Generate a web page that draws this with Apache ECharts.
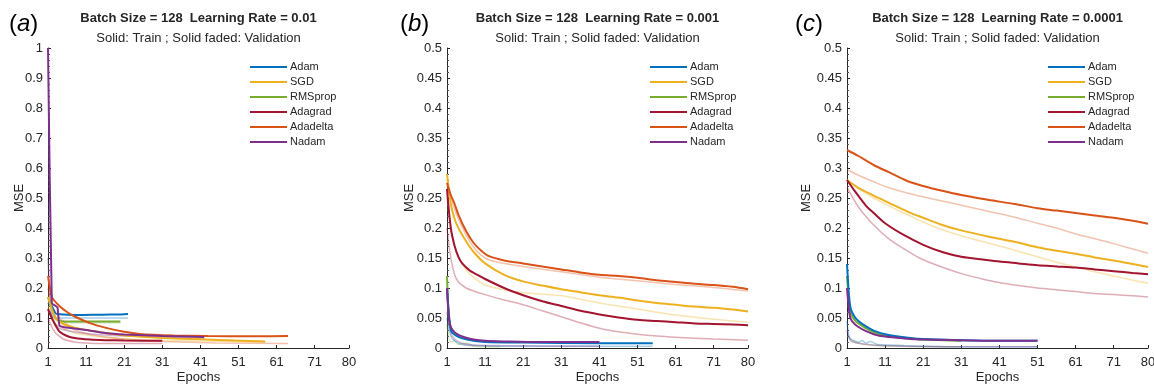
<!DOCTYPE html>
<html>
<head>
<meta charset="utf-8">
<script src="https://cdn.jsdelivr.net/npm/echarts@6/dist/echarts.min.js"></script>
<style>
  html, body { margin: 0; padding: 0; background: #fff; }
  #chart { width: 1154px; height: 387px; }
</style>
</head>
<body>
<div id="chart"></div>
<script>
// optimizers, legend order
var optimizers = ['Adam', 'SGD', 'RMSprop', 'Adagrad', 'Adadelta', 'Nadam'];
var xTicks = [1, 11, 21, 31, 41, 51, 61, 71, 80];
var panelLetters = ['a', 'b', 'c'];
var learningRates = ['0.01', '0.001', '0.0001'];

// ---- (a) lr = 0.01 : [epoch, MSE]
var aAdam     = [[1,0.15],[2,0.14],[3,0.115],[5,0.112],[10,0.11],[15,0.111],[20,0.112],[22,0.113]];
var aSGD      = [[1,0.17],[2,0.13],[3,0.1],[5,0.08],[8,0.068],[12,0.058],[16,0.05],[21,0.042],[31,0.033],[41,0.029],[50,0.025],[58,0.022]];
var aRMSprop  = [[1,0.17],[2,0.13],[3,0.1],[4,0.09],[8,0.088],[14,0.088],[20,0.088]];
var aAdagrad  = [[1,0.13],[2,0.1],[3,0.075],[4,0.055],[6,0.04],[8,0.033],[12,0.028],[16,0.026],[21,0.025],[31,0.024]];
var aAdadelta = [[1,0.24],[2,0.17],[4,0.14],[6,0.12],[8,0.105],[12,0.083],[16,0.068],[21,0.054],[25,0.047],[34,0.042],[43,0.04],[55,0.039],[64,0.04]];
var aNadam    = [[1,1.0],[2,0.15],[3,0.14],[3.5,0.135],[4,0.075],[5,0.07],[8,0.065],[11,0.06],[16,0.05],[21,0.045],[31,0.04],[42,0.037]];
var aAdamVal     = [[1,0.13],[2,0.11],[3,0.1],[10,0.1],[22,0.1]];
var aSGDVal      = [[1,0.14],[3,0.08],[8,0.05],[16,0.035],[31,0.025],[58,0.02]];
var aRMSpropVal  = [[1,0.12],[4,0.086],[20,0.084]];
var aAdagradVal  = [[1,0.1],[2,0.07],[3,0.05],[5,0.03],[8,0.02],[12,0.016],[21,0.015],[31,0.015]];
var aAdadeltaVal = [[1,0.2],[2,0.14],[4,0.1],[8,0.06],[12,0.045],[21,0.03],[31,0.022],[45,0.017],[64,0.015]];
var aNadamVal    = [[1,0.3],[2,0.1],[4,0.065],[10,0.05],[21,0.04],[42,0.032]];

// ---- (b) lr = 0.001
var bAdam     = [[1,0.1],[2,0.03],[3,0.022],[5,0.016],[8,0.012],[11,0.01],[21,0.009],[41,0.008],[55,0.008]];
var bSGD      = [[1,0.29],[2,0.24],[3,0.215],[4,0.2],[6,0.178],[8,0.16],[11,0.141],[16,0.122],[21,0.111],[26,0.104],[31,0.098],[36,0.093],[41,0.088],[46,0.084],[51,0.079],[56,0.075],[61,0.072],[66,0.069],[71,0.067],[76,0.064],[80,0.061]];
var bRMSprop  = [[1,0.12],[1.5,0.05],[2,0.034],[3,0.026],[4,0.022]];
var bAdagrad  = [[1,0.265],[2,0.2],[3,0.17],[4,0.152],[5,0.141],[7,0.129],[9,0.122],[11,0.115],[16,0.1],[21,0.088],[26,0.078],[31,0.07],[36,0.062],[41,0.056],[46,0.051],[51,0.047],[56,0.045],[61,0.043],[66,0.041],[71,0.04],[76,0.039],[80,0.038]];
var bAdadelta = [[1,0.275],[2,0.255],[3,0.24],[4,0.222],[6,0.195],[8,0.175],[10,0.162],[12,0.153],[16,0.146],[21,0.141],[26,0.136],[31,0.131],[36,0.126],[41,0.122],[46,0.12],[51,0.117],[56,0.113],[61,0.11],[66,0.107],[71,0.105],[76,0.102],[80,0.098]];
var bNadam    = [[1,0.1],[1.5,0.05],[2,0.035],[3,0.026],[4,0.022],[6,0.017],[8,0.014],[11,0.012],[16,0.011],[26,0.01],[41,0.01]];
var bAdamVal     = [[1,0.05],[2,0.02],[3,0.012],[5,0.006],[8,0.004],[15,0.003],[55,0.003]];
var bSGDVal      = [[1,0.25],[2,0.2],[3,0.17],[4,0.15],[6,0.13],[8,0.118],[11,0.105],[16,0.097],[21,0.092],[31,0.087],[41,0.075],[51,0.065],[61,0.055],[71,0.048],[80,0.043]];
var bRMSpropVal  = [[1,0.04],[2,0.01],[3,0.012],[4,0.006],[6,0.008],[8,0.003],[15,0.002]];
var bAdagradVal  = [[1,0.2],[2,0.15],[3,0.122],[4,0.11],[6,0.1],[8,0.095],[11,0.089],[16,0.08],[21,0.072],[26,0.062],[31,0.052],[36,0.042],[41,0.033],[46,0.027],[51,0.023],[56,0.02],[61,0.018],[71,0.015],[80,0.013]];
var bAdadeltaVal = [[1,0.27],[4,0.215],[8,0.168],[12,0.147],[21,0.136],[31,0.127],[41,0.118],[51,0.112],[61,0.106],[71,0.101],[80,0.095]];
var bNadamVal    = [[1,0.06],[2,0.025],[3,0.015],[5,0.008],[8,0.005],[15,0.004],[41,0.003]];

// ---- (c) lr = 0.0001
var cAdam     = [[1,0.14],[1.5,0.09],[2,0.065],[3,0.052],[4,0.045],[6,0.036],[8,0.029],[11,0.023],[16,0.018],[21,0.015],[31,0.013],[41,0.012],[51,0.012]];
var cSGD      = [[1,0.28],[4,0.267],[8,0.254],[12,0.242],[17,0.227],[21,0.217],[26,0.205],[31,0.196],[38,0.186],[45,0.177],[51,0.168],[56,0.162],[61,0.157],[66,0.151],[71,0.146],[76,0.14],[80,0.135]];
var cRMSprop  = [[1,0.12],[1.5,0.08],[2,0.058],[3,0.047],[4,0.041],[6,0.033],[8,0.026],[11,0.021],[16,0.017],[21,0.014],[31,0.012]];
var cAdagrad  = [[1,0.28],[3,0.262],[6,0.237],[8,0.225],[11,0.208],[16,0.188],[21,0.172],[26,0.16],[31,0.152],[36,0.148],[41,0.144],[46,0.141],[51,0.138],[56,0.136],[61,0.134],[66,0.131],[71,0.128],[76,0.125],[80,0.123]];
var cAdadelta = [[1,0.33],[4,0.32],[8,0.305],[12,0.293],[17,0.278],[21,0.27],[26,0.262],[31,0.255],[38,0.247],[45,0.24],[51,0.233],[56,0.229],[61,0.225],[66,0.221],[71,0.217],[76,0.212],[80,0.207]];
var cNadam    = [[1,0.1],[1.5,0.065],[2,0.048],[3,0.04],[4,0.035],[6,0.028],[8,0.023],[11,0.019],[16,0.016],[21,0.014],[31,0.013],[41,0.012],[51,0.012]];
var cAdamVal     = [[1,0.045],[1.5,0.02],[2,0.015],[3,0.012],[4,0.01],[5,0.012],[6,0.008],[7,0.011],[9,0.006],[12,0.005],[16,0.004],[21,0.003],[31,0.002],[51,0.002]];
var cSGDVal      = [[1,0.28],[4,0.265],[8,0.25],[12,0.237],[17,0.222],[21,0.21],[26,0.197],[31,0.187],[38,0.175],[45,0.163],[51,0.152],[56,0.143],[61,0.135],[66,0.127],[71,0.12],[76,0.113],[80,0.108]];
var cRMSpropVal  = [[1,0.02],[3,0.01],[8,0.004],[31,0.002]];
var cAdagradVal  = [[1,0.268],[4,0.235],[8,0.205],[12,0.182],[16,0.165],[20,0.15],[25,0.137],[31,0.124],[36,0.116],[41,0.109],[46,0.104],[51,0.1],[56,0.097],[61,0.094],[66,0.091],[71,0.089],[76,0.087],[80,0.085]];
var cAdadeltaVal = [[1,0.297],[4,0.288],[8,0.277],[12,0.267],[17,0.258],[21,0.252],[26,0.245],[31,0.238],[38,0.228],[45,0.218],[51,0.208],[56,0.2],[61,0.19],[66,0.182],[71,0.174],[76,0.165],[80,0.158]];
var cNadamVal    = [[1,0.03],[2,0.012],[4,0.008],[8,0.005],[16,0.003],[31,0.002],[51,0.002]];

var colors = {
  Adam: '#0072BD', SGD: '#EDB120', RMSprop: '#77AC30',
  Adagrad: '#A2142F', Adadelta: '#D95319', Nadam: '#7E2F8E'
};

var panels = [
  { train: {Adam:aAdam, SGD:aSGD, RMSprop:aRMSprop, Adagrad:aAdagrad, Adadelta:aAdadelta, Nadam:aNadam},
    val:   {Adam:aAdamVal, SGD:aSGDVal, RMSprop:aRMSpropVal, Adagrad:aAdagradVal, Adadelta:aAdadeltaVal, Nadam:aNadamVal},
    left: 48, ymax: 1, yint: 0.1, legendLeft: 250, nameGap: 22, letterLeft: 9, smooth: 0.15 },
  { train: {Adam:bAdam, SGD:bSGD, RMSprop:bRMSprop, Adagrad:bAdagrad, Adadelta:bAdadelta, Nadam:bNadam},
    val:   {Adam:bAdamVal, SGD:bSGDVal, RMSprop:bRMSpropVal, Adagrad:bAdagradVal, Adadelta:bAdadeltaVal, Nadam:bNadamVal},
    left: 447, ymax: 0.5, yint: 0.05, legendLeft: 650, nameGap: 31, letterLeft: 400, smooth: 0.3 },
  { train: {Adam:cAdam, SGD:cSGD, RMSprop:cRMSprop, Adagrad:cAdagrad, Adadelta:cAdadelta, Nadam:cNadam},
    val:   {Adam:cAdamVal, SGD:cSGDVal, RMSprop:cRMSpropVal, Adagrad:cAdagradVal, Adadelta:cAdadeltaVal, Nadam:cNadamVal},
    left: 847, ymax: 0.5, yint: 0.05, legendLeft: 1048, nameGap: 34, letterLeft: 795, smooth: 0.3 }
];

var font = 'Liberation Sans, Arial, sans-serif';
var ink = '#262626';
var plotW = 301, plotTop = 48, plotH = 300;
var drawOrder = ['RMSprop', 'Adam', 'SGD', 'Adagrad', 'Adadelta', 'Nadam'];

var grids = [], xAxes = [], yAxes = [], titles = [], legends = [], series = [];

panels.forEach(function (p, i) {
  var mid = p.left + plotW / 2;
  grids.push({ left: p.left, top: plotTop, width: plotW, height: plotH, outerBoundsMode: 'none' });
  xAxes.push({
    type: 'value', gridIndex: i, min: 1, max: 80,
    name: 'Epochs', nameLocation: 'middle', nameGap: 23, nameMoveOverlap: false,
    nameTextStyle: { color: ink, fontSize: 13, fontFamily: font },
    axisLine: { show: true, lineStyle: { color: ink, width: 1 } },
    axisTick: { show: true, inside: true, length: 3, customValues: xTicks, lineStyle: { color: ink } },
    axisLabel: { customValues: xTicks, color: ink, fontSize: 13, fontFamily: font, margin: 8 },
    splitLine: { show: false }
  });
  yAxes.push({
    type: 'value', gridIndex: i, min: 0, max: p.ymax, interval: p.yint,
    name: 'MSE', nameLocation: 'middle', nameGap: p.nameGap, nameMoveOverlap: false,
    nameTextStyle: { color: ink, fontSize: 13, fontFamily: font },
    axisLine: { show: true, lineStyle: { color: ink, width: 1 } },
    axisTick: { show: true, inside: true, length: 3, lineStyle: { color: ink } },
    minorTick: { show: true, splitNumber: 5, length: 2, lineStyle: { color: '#555' } },
    axisLabel: { color: ink, fontSize: 13, fontFamily: font, margin: 5 },
    splitLine: { show: false }
  });
  titles.push({
    text: 'Batch Size = 128  Learning Rate = ' + learningRates[i],
    subtext: 'Solid: Train ; Solid faded: Validation',
    left: mid, top: 11, textAlign: 'center', padding: 0, itemGap: 6,
    textStyle: { color: ink, fontSize: 13, fontWeight: 'bold', fontFamily: font, lineHeight: 14 },
    subtextStyle: { color: ink, fontSize: 13, fontFamily: font, lineHeight: 14 }
  });
  titles.push({
    text: '{p|(}{i|' + panelLetters[i] + '}{p|)}',
    left: p.letterLeft, top: 12, padding: 0,
    textStyle: {
      fontWeight: 'normal',
      rich: {
        p: { fontSize: 24, color: '#000', fontFamily: font, fontWeight: 'normal' },
        i: { fontSize: 24, color: '#000', fontFamily: font, fontWeight: 'normal', fontStyle: 'italic' }
      }
    }
  });
  legends.push({
    data: optimizers, orient: 'vertical', left: p.legendLeft, top: 61,
    icon: 'rect', itemWidth: 37, itemHeight: 2, itemGap: 3, padding: 0,
    selectedMode: false,
    textStyle: { color: ink, fontSize: 11, fontFamily: font, lineHeight: 12, padding: [0, 0, 0, -2] }
  });
});

// faded validation lines first, then solid training lines on top
panels.forEach(function (p, i) {
  drawOrder.forEach(function (name) {
    series.push({
      name: name + ' (validation)', type: 'line',
      xAxisIndex: i, yAxisIndex: i, data: p.val[name],
      showSymbol: false, symbol: 'none', smooth: p.smooth,
      lineStyle: { color: colors[name], width: 1.5, opacity: 0.35 },
      itemStyle: { color: colors[name] }, z: 2
    });
  });
});
panels.forEach(function (p, i) {
  drawOrder.forEach(function (name) {
    series.push({
      name: name, type: 'line',
      xAxisIndex: i, yAxisIndex: i, data: p.train[name],
      showSymbol: false, symbol: 'none', smooth: p.smooth,
      lineStyle: { color: colors[name], width: 2 },
      itemStyle: { color: colors[name] }, z: 3
    });
  });
});

var chart = echarts.init(document.getElementById('chart'));
chart.setOption({
  animation: false,
  backgroundColor: '#fff',
  title: titles,
  legend: legends,
  grid: grids,
  xAxis: xAxes,
  yAxis: yAxes,
  series: series
});
</script>
</body>
</html>
